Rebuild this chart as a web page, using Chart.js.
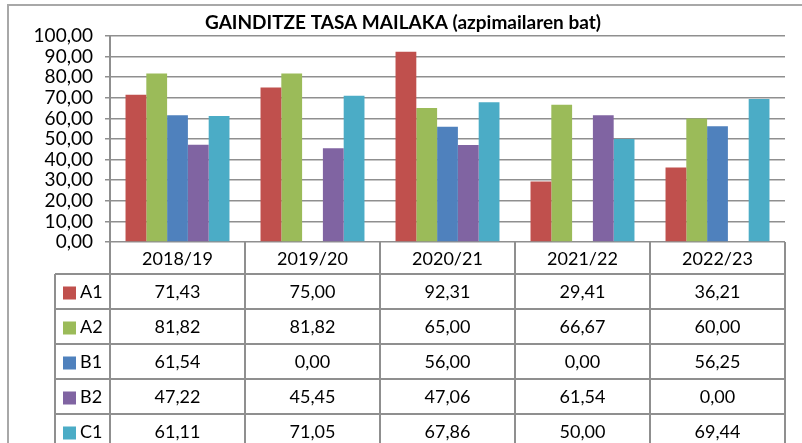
<!DOCTYPE html>
<html lang="eu">
<head>
  <meta charset="UTF-8">
  <title>Gainditze tasa mailaka</title>
  <script src="https://cdn.jsdelivr.net/npm/chart.js"></script>
  <style>
    html, body { margin: 0; padding: 0; background: #fff; }
    canvas { display: block; }
  </style>
</head>
<body>
<canvas id="tasaChart" width="802" height="443"></canvas>
<script>
  // ikasturteak eta mailak
  const years = ['2018/19', '2019/20', '2020/21', '2021/22', '2022/23'];
  const a1 = [71.43, 75.00, 92.31, 29.41, 36.21];
  const a2 = [81.82, 81.82, 65.00, 66.67, 60.00];
  const b1 = [61.54, 0.00, 56.00, 0.00, 56.25];
  const b2 = [47.22, 45.45, 47.06, 61.54, 0.00];
  const c1 = [61.11, 71.05, 67.86, 50.00, 69.44];
  const levelNames = ['A1', 'A2', 'B1', 'B2', 'C1'];
  const levelColors = ['#C0504D', '#9BBB59', '#4F81BD', '#8064A2', '#4BACC6'];
  const chartTitle = 'GAINDITZE TASA MAILAKA (azpimailaren bat)';

  const FONT = 'Lato, "Open Sans", sans-serif';
  const LINE = '#8f8f8f';

  function fmt(v) {
    return v.toFixed(2).replace('.', ',');
  }

  // data table under the plot + title + frame
  const tablePlugin = {
    id: 'dataTable',
    afterDraw(chart) {
      const ctx = chart.ctx;
      const area = chart.chartArea;
      const xs = chart.scales.x;
      const step = xs.getPixelForValue(1) - xs.getPixelForValue(0);
      const headerH = 32;
      const rowH = 35;
      const legendLeft = 55;
      const series = chart.data.datasets;

      ctx.save();
      // outer frame
      ctx.strokeStyle = '#a8a8a8';
      ctx.lineWidth = 2;
      ctx.beginPath();
      ctx.moveTo(8, 443);
      ctx.lineTo(8, 5);
      ctx.lineTo(802, 5);
      ctx.stroke();

      // title
      ctx.fillStyle = '#000';
      ctx.font = 'bold 19px ' + FONT;
      ctx.textAlign = 'center';
      ctx.textBaseline = 'middle';
      ctx.fillText(chartTitle, 403, 23);

      // table lines
      ctx.strokeStyle = LINE;
      ctx.lineWidth = 2;
      const top = area.bottom;
      const bottom = top + headerH + rowH * series.length;
      ctx.beginPath();
      for (let i = 0; i <= years.length; i++) {
        const x = Math.round(xs.getPixelForValue(i) - step / 2);
        ctx.moveTo(x, top);
        ctx.lineTo(x, bottom);
      }
      ctx.moveTo(area.right, top);
      ctx.lineTo(area.right, bottom);
      for (let r = 0; r <= series.length; r++) {
        const y = top + headerH + r * rowH;
        ctx.moveTo(legendLeft, y);
        ctx.lineTo(area.right, y);
      }
      ctx.moveTo(legendLeft, top + headerH);
      ctx.lineTo(legendLeft, bottom);
      ctx.stroke();

      // header
      ctx.font = '18px ' + FONT;
      ctx.fillStyle = '#000';
      years.forEach((y, i) => {
        ctx.fillText(y, xs.getPixelForValue(i), top + headerH / 2 + 1);
      });

      // rows
      series.forEach((ds, r) => {
        const cy = top + headerH + r * rowH + rowH / 2 + 1;
        ctx.fillStyle = ds.backgroundColor;
        ctx.fillRect(63, cy - 6, 13, 13);
        ctx.fillStyle = '#000';
        ctx.textAlign = 'left';
        ctx.fillText(ds.label, 80, cy);
        ctx.textAlign = 'center';
        ds.data.forEach((v, i) => {
          ctx.fillText(fmt(v), xs.getPixelForValue(i), cy);
        });
      });
      ctx.restore();
    }
  };

  const ctx = document.getElementById('tasaChart').getContext('2d');
  new Chart(ctx, {
    type: 'bar',
    data: {
      labels: years,
      datasets: [a1, a2, b1, b2, c1].map((vals, i) => ({
        label: levelNames[i],
        data: vals,
        backgroundColor: levelColors[i],
        borderWidth: 0,
        categoryPercentage: 0.77,
        barPercentage: 1
      }))
    },
    options: {
      responsive: false,
      animation: false,
      layout: {
        padding: { left: 0, top: 36, right: 17, bottom: 201 }
      },
      plugins: {
        legend: { display: false },
        tooltip: { enabled: false }
      },
      scales: {
        x: {
          display: false
        },
        y: {
          min: 0,
          max: 100,
          afterFit(scale) { scale.width = 110; },
          ticks: {
            stepSize: 10,
            autoSkip: false,
            color: '#000',
            padding: 12,
            font: { family: FONT, size: 19, lineHeight: 1 },
            callback: v => fmt(v)
          },
          grid: {
            color: LINE,
            lineWidth: 1.5,
            tickLength: 5
          },
          border: { color: LINE, width: 2 }
        }
      }
    },
    plugins: [tablePlugin]
  });
</script>
</body>
</html>
